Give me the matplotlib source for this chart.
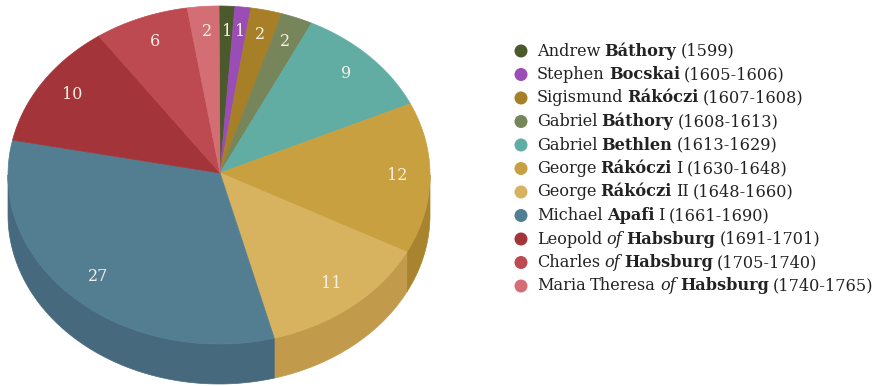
import matplotlib
matplotlib.use("Agg")
import matplotlib.pyplot as plt
from matplotlib.patches import Polygon, Circle
from matplotlib.offsetbox import TextArea, HPacker, AnnotationBbox
import numpy as np

# rulers of Transylvania -- number of years on the throne
labels = [
    "Andrew **Báthory** (1599)",
    "Stephen **Bocskai** (1605-1606)",
    "Sigismund **Rákóczi** (1607-1608)",
    "Gabriel **Báthory** (1608-1613)",
    "Gabriel **Bethlen** (1613-1629)",
    "George **Rákóczi** I (1630-1648)",
    "George **Rákóczi** II (1648-1660)",
    "Michael **Apafi** I (1661-1690)",
    "Leopold *of* **Habsburg** (1691-1701)",
    "Charles *of* **Habsburg** (1705-1740)",
    "Maria Theresa *of* **Habsburg** (1740-1765)",
]
years = [1, 1, 2, 2, 9, 12, 11, 27, 10, 6, 2]
colors = ['#4b5a2c', '#9a4db5', '#a67f26', '#76855a', '#62ada3', '#c8a040',
          '#d7b35f', '#537e92', '#a3343a', '#bd4a50', '#d36e75']
side_colors = ['#3c4823', '#7b3e91', '#85661f', '#5e6a48', '#4e8a82', '#a9842f',
               '#c29a4c', '#46697d', '#82292e', '#973b40', '#a9585e']

W, H = 876, 386
fig = plt.figure(figsize=(W / 100, H / 100), dpi=100)
ax = fig.add_axes([0, 0, 1, 1])
ax.set_xlim(0, W)
ax.set_ylim(H, 0)
ax.axis('off')

# pie geometry in pixels
cx, cy = 219, 175      # centre of top ellipse
vx, vy = 220, 173      # apex of the slices
a, b = 211, 169
depth = 40


def edge(t):
    t = np.radians(t)
    return cx + a * np.sin(t), cy - b * np.cos(t)


total = sum(years)
bounds = np.concatenate([[0], np.cumsum(years)]) / total * 360

# side walls (front half only)
for i in range(len(years)):
    t0, t1 = max(bounds[i], 90), min(bounds[i + 1], 270)
    if t1 <= t0:
        continue
    ts = np.linspace(t0, t1, 80)
    xs, ys = edge(ts)
    pts = list(zip(xs, ys)) + list(zip(xs[::-1], ys[::-1] + depth))
    ax.add_patch(Polygon(pts, closed=True, facecolor=side_colors[i],
                         edgecolor=side_colors[i], lw=0.5))

# top faces
for i in range(len(years)):
    ts = np.linspace(bounds[i], bounds[i + 1], 120)
    xs, ys = edge(ts)
    pts = [(vx, vy)] + list(zip(xs, ys))
    ax.add_patch(Polygon(pts, closed=True, facecolor=colors[i],
                         edgecolor=colors[i], lw=0.5))
    mid = np.radians((bounds[i] + bounds[i + 1]) / 2)
    r = 0.84
    ax.text(vx + r * a * np.sin(mid), vy - r * b * np.cos(mid), str(years[i]),
            ha='center', va='center', color='#f6efe4', fontsize=11.5,
            family='DejaVu Serif')

# legend
row0, step = 51, 23.5
for i, lab in enumerate(labels):
    y = row0 + i * step
    ax.add_patch(Circle((521, y), 6.5, facecolor=colors[i], edgecolor='none'))
    parts = []
    for w in lab.split(' '):
        props = dict(family='DejaVu Serif', fontsize=11.6, color='#222222')
        if w.startswith('**'):
            props['fontweight'] = 'bold'
            w = w.strip('*')
        elif w.startswith('*'):
            props['style'] = 'italic'
            w = w.strip('*')
        parts.append(TextArea(w, textprops=props))
    box = HPacker(children=parts, align='baseline', pad=0, sep=3.0)
    ab = AnnotationBbox(box, (537, y), xycoords='data', box_alignment=(0, 0.5),
                        frameon=False, pad=0)
    ax.add_artist(ab)

fig.savefig('out.png', dpi=100, facecolor='white')
